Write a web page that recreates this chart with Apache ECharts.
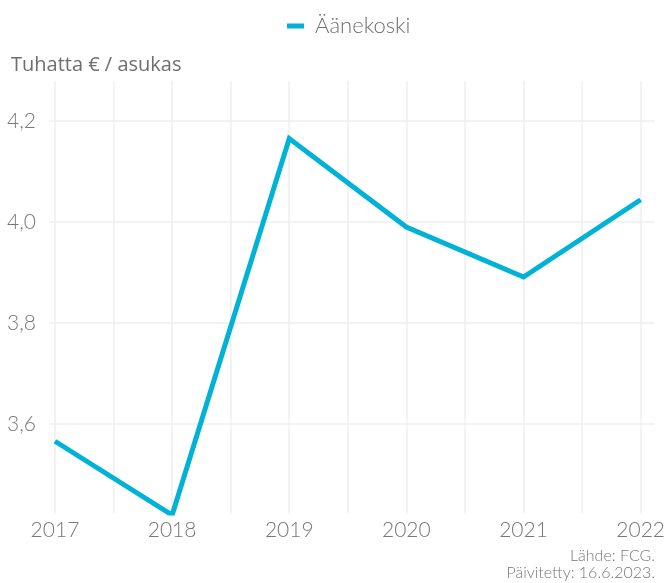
<!DOCTYPE html>
<html>
<head>
<meta charset="utf-8">
<script src="https://cdn.jsdelivr.net/npm/echarts@6/dist/echarts.min.js"></script>
<style>
  html, body { margin: 0; padding: 0; background: #fff; }
  #chart { width: 668px; height: 583px; }
</style>
</head>
<body>
<div id="chart"></div>
<script>
const years = [2017, 2018, 2019, 2020, 2021, 2022]
const values = [3.566, 3.42, 4.165, 3.99, 3.891, 4.044]
const seriesName = 'Äänekoski'
const unitLabel = 'Tuhatta € / asukas'
const sourceLines = ['Lähde: FCG.', 'Päivitetty: 16.6.2023.']

const chart = echarts.init(document.getElementById('chart'))
const textColor = '#777777'
const gridColor = '#efefef'
const lineColor = '#00b3d6'

const footerText = (text, y) => ({
  type: 'text',
  x: 655,
  y: y,
  style: {
    text: text,
    align: 'right',
    verticalAlign: 'middle',
    fontFamily: 'Lato',
    fontWeight: 300,
    fontSize: 16,
    fill: textColor
  }
})

const option = {
  animation: false,
  legend: {
    top: 10,
    left: 287,
    padding: [5, 0, 5, 0],
    icon: 'rect',
    itemWidth: 17,
    itemHeight: 5,
    itemGap: 10,
    textStyle: { fontFamily: 'Lato', fontWeight: 300, fontSize: 22, color: '#6e6e6e', padding: [0, 0, 0, 6] },
    data: [seriesName]
  },
  title: {
    text: unitLabel,
    left: 6,
    top: 50,
    textStyle: { fontFamily: 'Open Sans', fontSize: 20, fontWeight: 'normal', color: '#6e6e6e' }
  },
  graphic: [
    footerText(sourceLines[0], 556),
    footerText(sourceLines[1], 573)
  ],
  grid: {
    left: 49,
    right: 13,
    top: 81,
    bottom: 70,
    containLabel: false
  },
  xAxis: {
    type: 'value',
    min: 2016.949,
    max: 2022.119,
    splitNumber: 10,
    axisLine: { show: false },
    axisTick: { show: false },
    axisLabel: {
      margin: 7,
      fontFamily: 'Lato',
      fontWeight: 300,
      fontSize: 21,
      color: textColor,
      showMinLabel: false,
      showMaxLabel: false,
      formatter: v => (Number.isInteger(v) ? String(v) : '')
    },
    splitLine: {
      show: true,
      showMinLine: false,
      showMaxLine: false,
      lineStyle: { color: gridColor, width: 1.5 }
    }
  },
  yAxis: {
    type: 'value',
    min: 3.424,
    max: 4.279,
    splitNumber: 4,
    axisLine: { show: false },
    axisTick: { show: false },
    axisLabel: {
      margin: 13,
      fontFamily: 'Lato',
      fontWeight: 300,
      fontSize: 21,
      color: textColor,
      showMinLabel: false,
      showMaxLabel: false,
      formatter: v => v.toFixed(1).replace('.', ',')
    },
    splitLine: {
      show: true,
      showMinLine: false,
      showMaxLine: false,
      lineStyle: { color: gridColor, width: 1.5 }
    }
  },
  series: [
    {
      name: seriesName,
      type: 'line',
      data: years.map((y, i) => [y, values[i]]),
      symbol: 'none',
      clip: true,
      lineStyle: { color: lineColor, width: 5, join: 'miter' },
      itemStyle: { color: lineColor }
    }
  ]
}

chart.setOption(option)
</script>
</body>
</html>
